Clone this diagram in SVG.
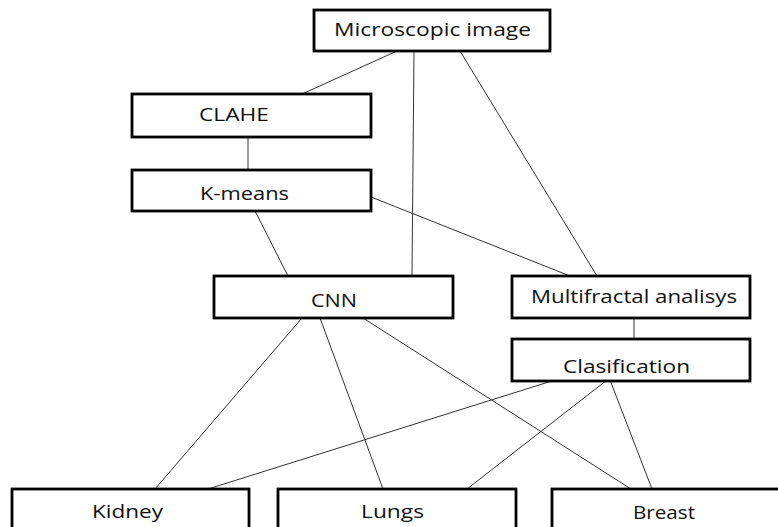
<svg xmlns="http://www.w3.org/2000/svg" width="778" height="527" viewBox="0 0 778 527">
<style>
.box{fill:#fff;stroke:#000;stroke-width:2.8}
.lbl{font-family:"Open Sans","Noto Sans","Liberation Sans",sans-serif;font-size:19px;fill:#111}
.conn line{stroke:#333;stroke-width:1}
</style>
<rect width="778" height="527" fill="#fff"/>
<g class="conn" id="connectors">
<line x1="397" y1="51" x2="302" y2="94"/>
<line x1="414" y1="51" x2="412" y2="276"/>
<line x1="460" y1="51" x2="597" y2="276"/>
<line x1="248" y1="137" x2="248" y2="170"/>
<line x1="255" y1="211" x2="288" y2="276"/>
<line x1="371" y1="197" x2="570" y2="276"/>
<line x1="634" y1="318" x2="634" y2="338"/>
<line x1="302" y1="318" x2="155" y2="489"/>
<line x1="320" y1="318" x2="383" y2="489"/>
<line x1="363" y1="318" x2="631" y2="489"/>
<line x1="555" y1="380" x2="208" y2="489"/>
<line x1="607" y1="380" x2="467" y2="489"/>
<line x1="610" y1="380" x2="652" y2="489"/>
</g>
<g id="microscopic">
<rect class="box" x="314" y="10" width="236" height="41"/>
<text class="lbl" x="334" y="36" textLength="197" lengthAdjust="spacingAndGlyphs">Microscopic image</text>
</g>
<g id="clahe">
<rect class="box" x="132" y="94" width="239" height="43"/>
<text class="lbl" x="199" y="121" textLength="70" lengthAdjust="spacingAndGlyphs">CLAHE</text>
</g>
<g id="kmeans">
<rect class="box" x="132" y="170" width="239" height="41"/>
<text class="lbl" x="200" y="200" textLength="89" lengthAdjust="spacingAndGlyphs">K-means</text>
</g>
<g id="cnn">
<rect class="box" x="214" y="276" width="239" height="42"/>
<text class="lbl" x="311" y="307" textLength="46" lengthAdjust="spacingAndGlyphs">CNN</text>
</g>
<g id="multifractal">
<rect class="box" x="512" y="276" width="238" height="42"/>
<text class="lbl" x="531" y="303" textLength="206" lengthAdjust="spacingAndGlyphs">Multifractal analisys</text>
</g>
<g id="clasification">
<rect class="box" x="512" y="339" width="238" height="42"/>
<text class="lbl" x="563" y="373" textLength="127" lengthAdjust="spacingAndGlyphs">Clasification</text>
</g>
<g id="kidney">
<rect class="box" x="12" y="489" width="237" height="60"/>
<text class="lbl" x="92" y="518" textLength="71" lengthAdjust="spacingAndGlyphs">Kidney</text>
</g>
<g id="lungs">
<rect class="box" x="278" y="489" width="238" height="60"/>
<text class="lbl" x="361" y="518" textLength="63" lengthAdjust="spacingAndGlyphs">Lungs</text>
</g>
<g id="breast">
<rect class="box" x="552" y="489" width="240" height="60"/>
<text class="lbl" x="633" y="519" textLength="62" lengthAdjust="spacingAndGlyphs">Breast</text>
</g>
</svg>
